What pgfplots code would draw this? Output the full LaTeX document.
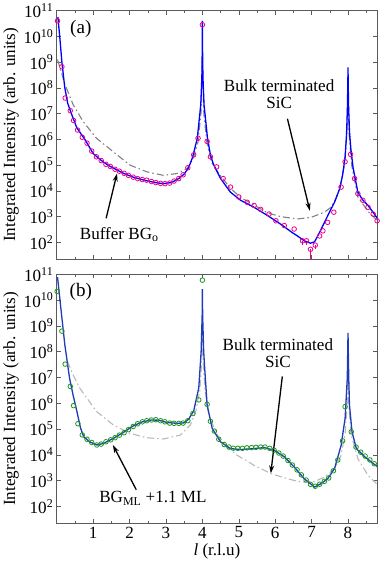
\documentclass[border=0pt]{standalone}
\usepackage{fontspec}
\setmainfont{Liberation Serif}
\usepackage{pgfplots}
\pgfplotsset{compat=1.18}
\usetikzlibrary{arrows.meta}
\definecolor{blueb}{RGB}{30,60,185}
\definecolor{greenc}{RGB}{30,150,30}
\definecolor{graya}{RGB}{130,130,130}
\definecolor{grayb}{RGB}{185,185,185}
\definecolor{axgray}{RGB}{90,90,90}
\begin{document}
\begin{tikzpicture}
\begin{axis}[name=a, xticklabels={},
    scale only axis, width=318bp, height=247bp,
    ymode=log, log basis y=10,
    xmin=0, xmax=8.8, ymin=22, ymax=1e11,
    xtick={1,2,3,4,5,6,7,8},
    minor xtick={0.5,1.5,2.5,3.5,4.5,5.5,6.5,7.5,8.5},
    ytick={1e2,1e3,1e4,1e5,1e6,1e7,1e8,1e9,1e10,1e11},
    tick pos=both, tick align=inside,
    major tick length=4bp, minor tick length=2.5bp,
    axis line style={axgray, line width=0.6pt},
    every tick/.style={axgray, line width=0.5pt},
    /pgf/number format/assume math mode=true,
    tick label style={font=\fontsize{17}{19}\selectfont},
    label style={font=\fontsize{17}{19}\selectfont},
    yticklabel={10\textsuperscript{\pgfmathparse{int(round(\tick))}\pgfmathresult}},
    ylabel={Integrated Intensity (arb. units)},
    ylabel style={yshift=-2bp}]
% bulk terminated SiC (a)
\addplot[graya, line width=1.1pt, dash pattern=on 7pt off 3pt on 1.5pt off 3pt] coordinates {
(0.02,1.26e9)(0.22,1.4e8)(0.45,2.2e7)(0.72,5.0e6)(1.09,1.1e6)(1.55,3.3e5)(2.01,1e5)(2.47,5.5e4)(2.93,4.0e4)(3.3,4.7e4)(3.58,7.4e4)(3.75,1.8e5)(3.88,7.9e5)(3.96,1e7)(4.0,1e9)(4.04,1e7)(4.12,7.9e5)(4.25,1.26e5)(4.45,4.7e4)(4.77,1.26e4)(5.05,5.6e3)(5.42,2.8e3)(5.79,1.4e3)(6.15,1e3)(6.61,810)(6.98,930)(7.35,1480)(7.53,2290)(7.67,5.0e3)(7.8,1.8e4)(7.9,1e5)(7.97,1.6e6)(8.0,1e8)(8.03,1.6e6)(8.1,1e5)(8.27,5.8e3)(8.55,1.6e3)(8.8,710)
};
% data (a)
\addplot[only marks, mark=o, mark size=2.3pt, magenta, mark options={line width=0.8pt}] coordinates {
(0.02,4.0e10)(0.14,6.6e8)(0.23,4.0e7)(0.37,1.3e7)(0.46,5.4e6)(0.57,2.3e6)(0.70,1.2e6)(0.83,7.1e5)(0.96,3.5e5)(1.09,2.1e5)(1.22,1.5e5)(1.35,1.07e5)(1.47,8.9e4)(1.6,6.9e4)(1.72,5.8e4)(1.85,4.8e4)(1.97,4.0e4)(2.1,3.4e4)(2.22,3.0e4)(2.35,2.75e4)(2.47,2.6e4)(2.6,2.3e4)(2.72,2.1e4)(2.85,1.95e4)(2.97,1.9e4)(3.1,2.0e4)(3.22,2.4e4)(3.35,3.0e4)(3.47,4.2e4)(3.6,7.9e4)(3.76,2.5e5)(3.88,1.1e6)(4.0,2.8e10)(4.13,8.3e5)(4.22,2.1e5)(4.39,8.5e4)(4.57,3.0e4)(4.77,1.4e4)(5.0,5.8e3)(5.23,3.6e3)(5.42,2.7e3)(5.6,1.9e3)(5.83,1.26e3)(6.02,690)(6.25,450)(6.52,330)(7.22,178)(7.31,280)(7.44,600)(7.61,1480)(7.81,1.4e4)(7.92,1.35e5)(8.07,2.6e5)(8.18,3.0e4)(8.27,7.8e3)(8.41,4.3e3)(8.55,2.3e3)(8.69,1.26e3)(8.8,690)
};
% data (a) with error bars
\addplot[only marks, mark=o, mark size=2.3pt, magenta, mark options={line width=0.8pt},
  error bars/.cd, y dir=minus, y explicit, error mark=none,
  error bar style={magenta, line width=0.8pt}] coordinates {
(6.75,115) -= (0,34)
(6.86,115) -= (0,34)
(6.97,54) -= (0,53.5)
(7.1,78) -= (0,23)
};
% fit (a)
\addplot[blue, line width=1.3pt] coordinates {
(0.03,5.6e10)(0.08,1e10)(0.14,1e9)(0.22,1e8)(0.30,2.5e7)(0.40,1e7)(0.55,2.8e6)(0.77,1e6)(1.0,2.8e5)(1.2,1.6e5)(1.4,1e5)(1.6,7.1e4)(1.83,4.8e4)(2.1,3.4e4)(2.4,2.6e4)(2.7,2.1e4)(2.93,1.9e4)(3.15,2.1e4)(3.35,3.0e4)(3.5,4.5e4)(3.62,7.9e4)(3.73,2.0e5)(3.86,1.1e6)(3.955,2.2e7)(3.985,2.5e8)(3.995,2.5e9)(4.0,4e10)(4.005,2.5e9)(4.015,2.5e8)(4.045,2.2e7)(4.14,1.1e6)(4.22,2.5e5)(4.3,1.1e5)(4.5,3.0e4)(4.77,8.9e3)(5.05,4.3e3)(5.42,2.3e3)(5.79,1.1e3)(6.15,510)(6.45,250)(6.61,178)(6.8,115)(6.97,93)(7.08,105)(7.17,178)(7.31,447)(7.49,1480)(7.63,3630)(7.77,1.2e4)(7.85,4.0e4)(7.92,2.0e5)(7.96,1.6e6)(7.985,2.0e7)(7.995,1.6e8)(8.0,6.2e8)(8.005,1.6e8)(8.015,2.0e7)(8.04,2.0e6)(8.08,4.0e5)(8.14,7.9e4)(8.27,8.9e3)(8.4,4.5e3)(8.55,2.7e3)(8.8,890)
};
\node[font=\fontsize{19}{21}\selectfont] at (rel axis cs:0.075,0.925) {(a)};
\node[font=\fontsize{17}{19}\selectfont] at (rel axis cs:0.195,0.10) {Buffer BG\textsubscript{o}};
\draw[-{Stealth[length=8bp,width=5bp]}, line width=1.3pt] (rel axis cs:0.154,0.165) -- (rel axis cs:0.188,0.345);
\node[font=\fontsize{17}{19}\selectfont, align=center] at (rel axis cs:0.694,0.665) {Bulk terminated\\[-2bp]SiC};
\draw[-{Stealth[length=8bp,width=5bp]}, line width=1.3pt] (rel axis cs:0.72,0.565) -- (rel axis cs:0.79,0.195);
\end{axis}
\begin{axis}[at={(a.south west)}, anchor=north west, yshift=-15bp,
    xlabel={\textit{l} (r.l.u)}, xlabel style={yshift=2bp},
    scale only axis, width=318bp, height=247bp,
    ymode=log, log basis y=10,
    xmin=0, xmax=8.8, ymin=22, ymax=1e11,
    xtick={1,2,3,4,5,6,7,8},
    minor xtick={0.5,1.5,2.5,3.5,4.5,5.5,6.5,7.5,8.5},
    ytick={1e2,1e3,1e4,1e5,1e6,1e7,1e8,1e9,1e10,1e11},
    tick pos=both, tick align=inside,
    major tick length=4bp, minor tick length=2.5bp,
    axis line style={axgray, line width=0.6pt},
    every tick/.style={axgray, line width=0.5pt},
    /pgf/number format/assume math mode=true,
    tick label style={font=\fontsize{17}{19}\selectfont},
    label style={font=\fontsize{17}{19}\selectfont},
    yticklabel={10\textsuperscript{\pgfmathparse{int(round(\tick))}\pgfmathresult}},
    ylabel={Integrated Intensity (arb. units)},
    ylabel style={yshift=-2bp}]
% bulk terminated SiC (b)
\addplot[grayb, line width=1.1pt, dash pattern=on 7pt off 3pt on 1.5pt off 3pt] coordinates {
(0.29,4.3e7)(0.45,1.26e7)(0.63,3.9e6)(1.09,4.8e5)(1.55,1.45e5)(2.01,6.8e4)(2.47,4.6e4)(2.93,4.1e4)(3.39,5.8e4)(3.67,1.45e5)(3.82,5e5)(3.93,3.2e6)(3.98,4e7)(4.0,3.2e8)(4.02,4e7)(4.07,3.2e6)(4.18,3.2e5)(4.5,3.2e4)(4.96,9.5e3)(5.42,3.9e3)(5.88,1.86e3)(6.34,1.17e3)(6.71,870)(7.08,910)(7.36,1.38e3)(7.63,2.9e3)(7.8,8.9e3)(7.92,6.3e4)(7.98,1e6)(8.0,3.2e7)(8.02,1e6)(8.08,6.3e4)(8.27,7.1e3)(8.55,1.6e3)(8.78,760)
};
% data (b)
\addplot[only marks, mark=o, mark size=2.3pt, greenc, mark options={line width=0.8pt}] coordinates {
(0.01,2.2e10)(0.14,6.3e8)(0.23,3.3e7)(0.37,4.5e6)(0.46,8.1e5)(0.58,1.6e5)(0.70,5.9e4)(0.83,4.0e4)(0.96,3.0e4)(1.1,2.4e4)(1.22,2.6e4)(1.35,3.2e4)(1.48,3.8e4)(1.6,4.6e4)(1.72,5.8e4)(1.85,7.2e4)(1.97,9.5e4)(2.1,1.26e5)(2.22,1.6e5)(2.35,1.9e5)(2.47,2.1e5)(2.6,2.24e5)(2.72,2.3e5)(2.85,2.1e5)(2.97,1.9e5)(3.1,1.7e5)(3.22,1.66e5)(3.35,1.66e5)(3.47,1.7e5)(3.6,2.1e5)(3.74,4.0e5)(3.9,1.35e6)(4.0,6.0e10)(4.13,9.1e5)(4.22,2.0e5)(4.33,8.3e4)(4.45,4.0e4)(4.6,2.5e4)(4.73,2.0e4)(4.85,1.8e4)(4.97,1.78e4)(5.1,1.78e4)(5.22,1.86e4)(5.35,1.9e4)(5.47,1.95e4)(5.6,2.0e4)(5.72,2.0e4)(5.85,1.78e4)(5.97,1.5e4)(6.1,1.17e4)(6.22,8.9e3)(6.35,6.0e3)(6.47,4.0e3)(6.6,2.6e3)(6.72,1.66e3)(6.85,1.05e3)(6.97,710)(7.1,600)(7.22,720)(7.35,930)(7.47,1.26e3)(7.6,2.4e3)(7.72,6.3e3)(7.85,3.5e4)(7.92,7.4e5)(8.09,7.8e4)(8.22,2.0e4)(8.35,1.26e4)(8.47,8.9e3)(8.6,6.3e3)(8.72,4.5e3)
};
% fit (b)
\addplot[blueb, line width=1.3pt] coordinates {
(0.02,7.9e10)(0.12,3.8e9)(0.22,1.9e8)(0.35,9.5e6)(0.45,2.0e6)(0.55,5.0e5)(0.65,1.12e5)(0.74,5.0e4)(0.91,3.16e4)(1.1,2.4e4)(1.28,2.75e4)(1.55,4.3e4)(1.83,7.4e4)(2.1,1.32e5)(2.35,1.9e5)(2.6,2.24e5)(2.8,2.2e5)(3.02,1.8e5)(3.3,1.66e5)(3.5,1.74e5)(3.62,2.4e5)(3.76,5.0e5)(3.9,3.9e6)(3.965,1e8)(3.993,2.5e9)(4.0,2.7e10)(4.007,2.5e9)(4.035,1e8)(4.07,1.6e7)(4.13,8.5e5)(4.27,1.05e5)(4.5,3.16e4)(4.77,1.74e4)(5.05,1.6e4)(5.42,1.74e4)(5.7,1.9e4)(5.97,1.5e4)(6.25,8.3e3)(6.52,3.4e3)(6.8,1.17e3)(7.08,560)(7.26,760)(7.44,1.17e3)(7.63,2.9e3)(7.81,2.3e4)(7.92,2.6e5)(7.98,9.5e6)(8.0,5.4e8)(8.02,9.5e6)(8.04,8.5e5)(8.11,7.8e4)(8.23,1.74e4)(8.46,8.3e3)(8.8,3.5e3)
};
\node[font=\fontsize{19}{21}\selectfont] at (rel axis cs:0.075,0.93) {(b)};
\node[font=\fontsize{17}{19}\selectfont, align=center] at (rel axis cs:0.69,0.685) {Bulk terminated\\[-2bp]SiC};
\draw[-{Stealth[length=8bp,width=5bp]}, line width=1.3pt] (rel axis cs:0.704,0.59) -- (rel axis cs:0.668,0.2);
\node[font=\fontsize{17}{19}\selectfont] at (rel axis cs:0.30,0.10) {BG\textsubscript{ML} +1.1 ML};
\draw[-{Stealth[length=8bp,width=5bp]}, line width=1.3pt] (rel axis cs:0.248,0.135) -- (rel axis cs:0.175,0.315);
\end{axis}
\end{tikzpicture}
\end{document}
